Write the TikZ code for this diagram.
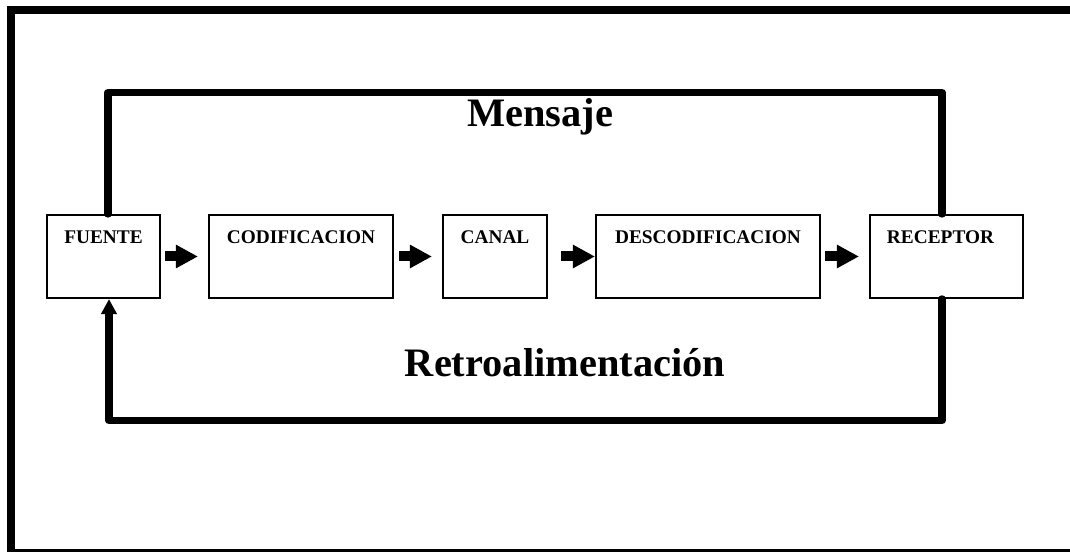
\documentclass[tikz,border=0pt]{standalone}
\usepackage{fontspec}
\setmainfont{Liberation Serif}
\usepackage{tikz}
\usetikzlibrary{arrows.meta, positioning}

\begin{document}
\begin{tikzpicture}[
  caja/.style={draw, line width=1.2pt, minimum width=2.26cm, minimum height=1.66cm, inner sep=0pt},
  txtcaja/.style={font=\fontsize{11}{13}\selectfont\bfseries, anchor=north, yshift=-0.22cm},
  flecha/.style={line width=0.2cm, -{Triangle[length=0.44cm, width=0.44cm]}},
  lazo/.style={line width=0.15cm, line cap=round, line join=round},
  titulo/.style={font=\fontsize{23}{28}\selectfont\bfseries, anchor=base}
]
\useasboundingbox (0,0) rectangle (21.4,-11.04);
\clip (0,0) rectangle (21.4,-11.04);
\draw[line width=0.16cm] (0.22,-0.21) rectangle (21.6,-11.06);

\node[caja, label={[txtcaja]north:FUENTE}] (fuente) at (2.07, -5.13) {};
\node[caja, minimum width=3.68cm, label={[txtcaja]north:CODIFICACION}] (codif) at (6.02, -5.13) {};
\node[caja, minimum width=2.08cm, label={[txtcaja]north:CANAL}] (canal) at (9.90, -5.13) {};
\node[caja, minimum width=4.48cm, label={[txtcaja]north:DESCODIFICACION}] (descod) at (14.16, -5.13) {};
\node[caja, minimum width=3.06cm, label={[txtcaja, xshift=-0.12cm]north:RECEPTOR}] (receptor) at (18.93, -5.13) {};

\draw[flecha, shorten <=0.08cm, shorten >=0.2cm] (fuente) -- (codif);
\draw[flecha, shorten <=0.1cm, shorten >=0.2cm] (codif) -- (canal);
\draw[flecha, shorten <=0.26cm] (canal) -- (descod);
\draw[flecha, shorten <=0.08cm, shorten >=0.2cm] (descod) -- (receptor);

% mensaje y retroalimentacion
\draw[lazo] ([xshift=0.09cm]fuente.north) -- ++(0,2.43) -| ([xshift=-0.09cm]receptor.north);
\draw[lazo, -{Triangle[length=0.3cm, width=0.3cm]}] ([xshift=-0.09cm]receptor.south) -- ++(0,-2.43) -| ([xshift=0.11cm]fuente.south);

\node[titulo] (mensaje) at (10.8, -2.54) {Mensaje};
\node[titulo] (retro) at (11.3, -7.54) {Retroalimentación};
\end{tikzpicture}
\end{document}
